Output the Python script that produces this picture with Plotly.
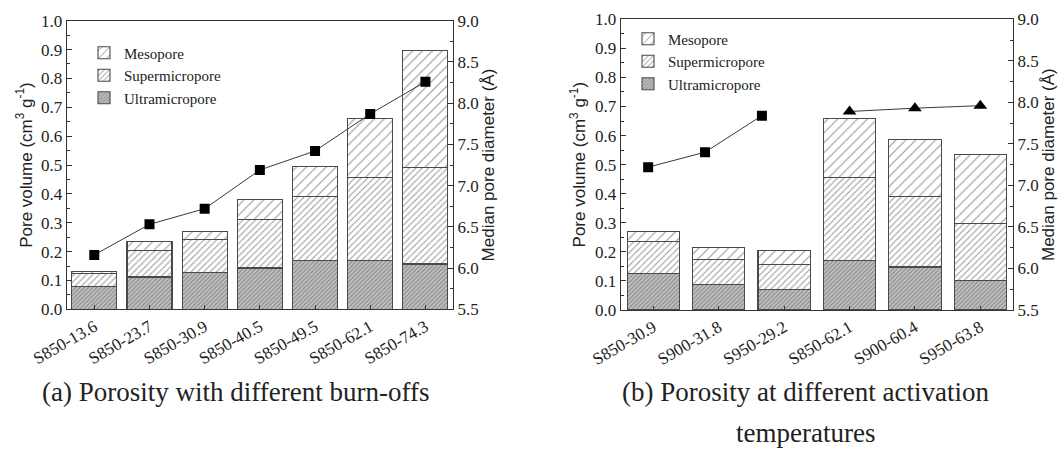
import plotly.graph_objects as go

# ---- (a) samples with different burn-offs ----
burnoff_labels = ["S850-13.6", "S850-23.7", "S850-30.9", "S850-40.5", "S850-49.5", "S850-62.1", "S850-74.3"]
burnoff_ultra = [0.080, 0.112, 0.127, 0.143, 0.168, 0.169, 0.157]
burnoff_super_top = [0.125, 0.203, 0.241, 0.310, 0.390, 0.457, 0.490]
burnoff_total = [0.130, 0.235, 0.270, 0.382, 0.495, 0.662, 0.898]
burnoff_median = [6.16, 6.53, 6.72, 7.19, 7.42, 7.87, 8.26]

# ---- (b) samples at different activation temperatures ----
temp_labels = ["S850-30.9", "S900-31.8", "S950-29.2", "S850-62.1", "S900-60.4", "S950-63.8"]
temp_ultra = [0.126, 0.088, 0.070, 0.169, 0.148, 0.102]
temp_super_top = [0.237, 0.174, 0.155, 0.456, 0.390, 0.298]
temp_total = [0.270, 0.215, 0.205, 0.659, 0.585, 0.536]
low_burn_x = [-0.08, 0.79, 1.66]
low_burn_median = [7.22, 7.40, 7.84]
high_burn_x = [3, 4, 5]
high_burn_median = [7.89, 7.93, 7.96]

W, H = 1063, 449
SERIF = "Liberation Serif"
SANS = "Liberation Sans"
INK = "#222222"
EDGE = "#4a4a4a"

PATTERNS = {
    "Ultramicropore": dict(shape="/", size=3, solidity=0.4, fgcolor="#505050", bgcolor="#c4c4c4"),
    "Supermicropore": dict(shape="/", size=4.5, solidity=0.25, fgcolor="#454545", bgcolor="white"),
    "Mesopore": dict(shape="/", size=7, solidity=0.17, fgcolor="#3a3a3a", bgcolor="white"),
}
RANK = {"Mesopore": 1, "Supermicropore": 2, "Ultramicropore": 3}


def seg(lo, hi):
    return [round(h - l, 4) for l, h in zip(lo, hi)]


def px_x(v):
    return v / W


def px_y(v):
    return 1 - v / H


fig = go.Figure()


def add_stack(xref, yref, n, ultra, super_top, total, legend, width):
    xs = list(range(n))
    parts = [
        ("Ultramicropore", ultra),
        ("Supermicropore", seg(ultra, super_top)),
        ("Mesopore", seg(super_top, total)),
    ]
    for name, vals in parts:
        fig.add_trace(go.Bar(
            x=xs, y=vals, name=name, width=width,
            xaxis=xref, yaxis=yref, legend=legend, legendrank=RANK[name],
            marker=dict(color="white", pattern=PATTERNS[name],
                        line=dict(color=EDGE, width=1.1)),
            hoverinfo="skip",
        ))


add_stack("x", "y", len(burnoff_labels), burnoff_ultra, burnoff_super_top, burnoff_total, "legend", 0.815)
add_stack("x2", "y3", len(temp_labels), temp_ultra, temp_super_top, temp_total, "legend2", 0.8)

line_style = dict(color="#3a3a3a", width=1)
fig.add_trace(go.Scatter(
    x=list(range(len(burnoff_labels))), y=burnoff_median, xaxis="x", yaxis="y2",
    mode="lines+markers", line=line_style,
    marker=dict(symbol="square", size=10, color="black"), showlegend=False,
))
fig.add_trace(go.Scatter(
    x=low_burn_x, y=low_burn_median, xaxis="x2", yaxis="y4",
    mode="lines+markers", line=line_style,
    marker=dict(symbol="square", size=10, color="black"), showlegend=False,
))
fig.add_trace(go.Scatter(
    x=high_burn_x, y=high_burn_median, xaxis="x2", yaxis="y4",
    mode="lines+markers", line=line_style,
    marker=dict(symbol="triangle-up", size=12, color="black"), showlegend=False,
))

tick_font = dict(family=SERIF, size=17, color=INK)
title_font = dict(family=SANS, size=17, color=INK)
axis_common = dict(showline=True, linecolor="#333333", linewidth=1.2, ticks="inside",
                   tickcolor="#333333", tickfont=tick_font, showgrid=False, zeroline=False,
                   automargin=False)

left_dom = [px_x(66.7), px_x(453)]
right_dom = [px_x(620.7), px_x(1013)]
left_ydom = [px_y(309.3), px_y(20.7)]
right_ydom = [px_y(310), px_y(19.3)]

fig.update_layout(
    width=W, height=H, margin=dict(l=0, r=0, t=0, b=0, autoexpand=False),
    paper_bgcolor="white", plot_bgcolor="white", barmode="stack",
    xaxis=dict(**axis_common, domain=left_dom, anchor="y", range=[-0.5, 6.5],
               tickvals=list(range(len(burnoff_labels))), ticktext=burnoff_labels,
               tickangle=-30, ticklen=4, mirror=True),
    yaxis=dict(**axis_common, domain=left_ydom, anchor="x", range=[0, 1.0], dtick=0.1,
               tickformat=".1f", ticklen=5,
               minor=dict(ticks="inside", ticklen=3, dtick=0.05, tickcolor="#333333"),
               title=dict(text="Pore volume (cm<sup>3</sup> g<sup>-1</sup>)", font=title_font, standoff=4)),
    yaxis2=dict(**axis_common, overlaying="y", side="right", anchor="x", range=[5.5, 9.0],
                dtick=0.5, tickformat=".1f", ticklen=5,
                minor=dict(ticks="inside", ticklen=3, dtick=0.25, tickcolor="#333333"),
                title=dict(text="Median pore diameter (Å)", font=title_font, standoff=2)),
    xaxis2=dict(**axis_common, domain=right_dom, anchor="y3", range=[-0.5, 5.5],
                tickvals=list(range(len(temp_labels))), ticktext=temp_labels,
                tickangle=-30, ticklen=4, mirror=True),
    yaxis3=dict(**axis_common, domain=right_ydom, anchor="x2", range=[0, 1.0], dtick=0.1,
                tickformat=".1f", ticklen=5,
                minor=dict(ticks="inside", ticklen=3, dtick=0.05, tickcolor="#333333"),
                title=dict(text="Pore volume (cm<sup>3</sup> g<sup>-1</sup>)", font=title_font, standoff=4)),
    yaxis4=dict(**axis_common, overlaying="y3", side="right", anchor="x2", range=[5.5, 9.0],
                dtick=0.5, tickformat=".1f", ticklen=5,
                minor=dict(ticks="inside", ticklen=3, dtick=0.25, tickcolor="#333333"),
                title=dict(text="Median pore diameter (Å)", font=title_font, standoff=2)),
    legend=dict(x=px_x(84), y=px_y(36.5), xanchor="left", yanchor="top",
                traceorder="normal", bgcolor="rgba(0,0,0,0)",
                font=dict(family=SERIF, size=15, color=INK)),
    legend2=dict(x=px_x(628), y=px_y(22.5), xanchor="left", yanchor="top",
                 traceorder="normal", bgcolor="rgba(0,0,0,0)",
                 font=dict(family=SERIF, size=15, color=INK)),
)

caption_font = dict(family=SERIF, size=27, color=INK)
for text, cx, cy in [("(a) Porosity with different burn-offs", 235, 392),
                     ("(b) Porosity at different activation", 805, 392),
                     ("temperatures", 805, 433)]:
    fig.add_annotation(text=text, x=px_x(cx), y=px_y(cy), xref="paper", yref="paper",
                       xanchor="center", yanchor="middle", showarrow=False, font=caption_font)

fig.write_html("out.html")
